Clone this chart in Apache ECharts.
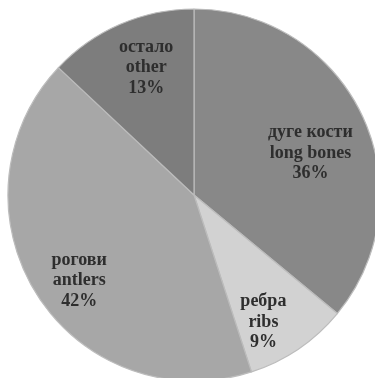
<!DOCTYPE html>
<html>
<head>
<meta charset="utf-8">
<script src="https://cdn.jsdelivr.net/npm/echarts@6/dist/echarts.min.js"></script>
<style>html,body{margin:0;padding:0;background:#fff;}#c{width:375px;height:378px;}</style>
</head>
<body>
<div id="c"></div>
<script>
const categoriesSr = ['дуге кости', 'ребра', 'рогови', 'остало'];
const categoriesEn = ['long bones', 'ribs', 'antlers', 'other'];
const values = [36, 9, 42, 13];
const colors = ['#888888', '#d2d2d2', '#a7a7a7', '#7d7d7d'];

const data = values.map((v, i) => ({
  value: v,
  name: categoriesEn[i],
  sr: categoriesSr[i],
  itemStyle: { color: colors[i] }
}));

// small nudges of the in-slice labels (label placement only)
const labelNudge = [[-13, 19], [-11, 9], [6, 9], [9, 4]];

const chart = echarts.init(document.getElementById('c'));
chart.setOption({
  animation: false,
  backgroundColor: '#ffffff',
  series: [
    {
      type: 'pie',
      center: [194, 195],
      radius: [0, 186],
      startAngle: 90,
      clockwise: true,
      silent: true,
      label: { show: false },
      labelLine: { show: false },
      itemStyle: { borderColor: '#bcbcbc', borderWidth: 1.2 },
      data: data
    },
    {
      type: 'pie',
      center: [194, 195],
      radius: [94, 186],
      startAngle: 90,
      clockwise: true,
      silent: true,
      itemStyle: { color: 'rgba(0,0,0,0)', borderWidth: 0 },
      label: {
        show: true,
        position: 'inside',
        formatter: p => p.data.sr + '\n' + p.name + '\n' + p.value + '%',
        fontFamily: '"Liberation Serif", "DejaVu Serif", serif',
        fontWeight: 'bold',
        fontSize: 18,
        lineHeight: 20.5,
        color: '#2e2e2e',
        align: 'center'
      },
      labelLayout: p => ({ dx: labelNudge[p.dataIndex][0], dy: labelNudge[p.dataIndex][1] }),
      labelLine: { show: false },
      data: data.map(d => ({ value: d.value, name: d.name, sr: d.sr, itemStyle: { color: 'rgba(0,0,0,0)' } }))
    }
  ]
});
</script>
</body>
</html>
